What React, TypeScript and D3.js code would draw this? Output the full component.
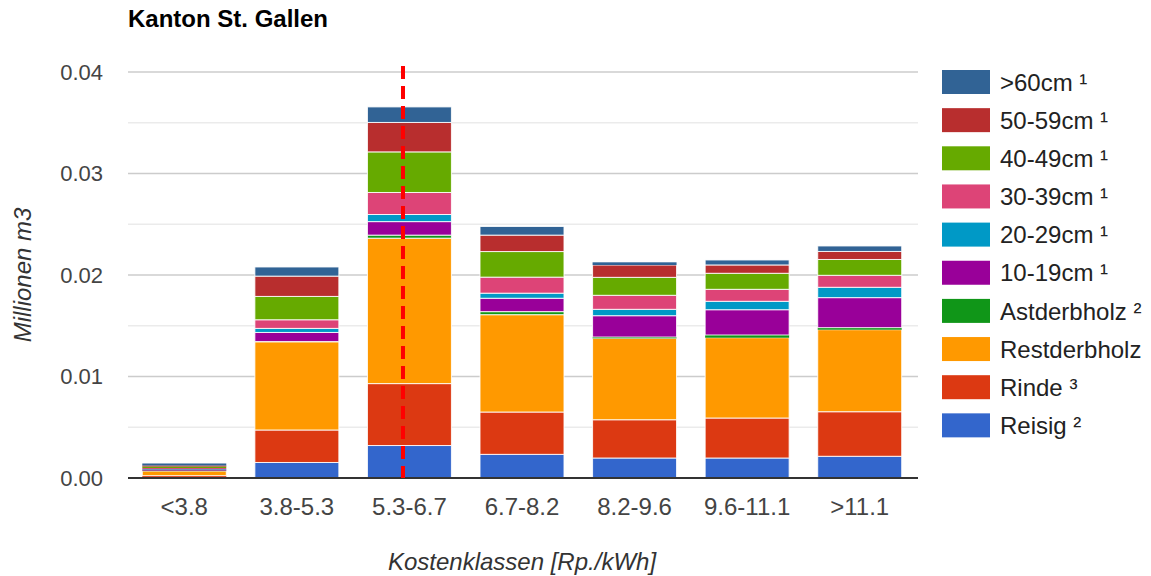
import React from "react";
import * as d3 from "d3";

const categories = ["<3.8", "3.8-5.3", "5.3-6.7", "6.7-8.2", "8.2-9.6", "9.6-11.1", ">11.1"];

// series in stacking order (bottom to top)
const seriesNames = ["Reisig ²", "Rinde ³", "Restderbholz", "Astderbholz ²", "10-19cm ¹", "20-29cm ¹", "30-39cm ¹", "40-49cm ¹", "50-59cm ¹", ">60cm ¹"];
const seriesColors = ["#3366cc", "#dc3912", "#ff9900", "#109618", "#990099", "#0099c6", "#dd4477", "#66aa00", "#b82e2e", "#316395"];

const reisig = [0.00003, 0.00153, 0.0032, 0.00233, 0.00197, 0.00197, 0.00214];
const rinde = [0.0002, 0.0032, 0.0061, 0.00417, 0.00377, 0.00394, 0.00439];
const restderbholz = [0.00045, 0.00867, 0.01433, 0.00959, 0.00802, 0.00791, 0.00808];
const astderbholz = [0.00005, 0.00005, 0.0003, 0.0003, 0.00013, 0.00027, 0.0002];
const cm10_19 = [0.0001, 0.00089, 0.00133, 0.00132, 0.0021, 0.00249, 0.00296];
const cm20_29 = [0.00005, 0.0004, 0.0007, 0.0005, 0.00063, 0.00083, 0.00102];
const cm30_39 = [0.0001, 0.00085, 0.00217, 0.00158, 0.00138, 0.00118, 0.00118];
const cm40_49 = [0.00015, 0.0023, 0.004, 0.00252, 0.00177, 0.00158, 0.00156];
const cm50_59 = [0.0001, 0.002, 0.0029, 0.00162, 0.00121, 0.00082, 0.00079];
const cm60plus = [0.0002, 0.0009, 0.00153, 0.00085, 0.00027, 0.00049, 0.00054];

const seriesValues = [reisig, rinde, restderbholz, astderbholz, cm10_19, cm20_29, cm30_39, cm40_49, cm50_59, cm60plus];

const yTicks = [0, 0.01, 0.02, 0.03, 0.04];
const yMinorTicks = [0.005, 0.015, 0.025, 0.035];

// reference marker (Rp./kWh) inside category "5.3-6.7"
const markerCategory = "5.3-6.7";
const markerRange = [5.3, 6.7];
const markerValue = 5.92;

const W = 1151;
const H = 576;
const FONT = "Arial, 'Liberation Sans', sans-serif";

export default function App() {
  const x = d3.scaleBand<string>().domain(categories).range([128, 916]).paddingInner(0.254).paddingOuter(0.127);
  const y = d3.scaleLinear().domain([0, 0.04]).range([478, 72]);

  const rows = categories.map((c, i) => {
    const r: any = { cat: c };
    seriesNames.forEach((s, j) => (r[s] = seriesValues[j][i]));
    return r;
  });
  const stacked = d3.stack<any>().keys(seriesNames)(rows);

  const mStep = x.step();
  const mStart = (x(markerCategory) as number) - (x.step() * x.paddingInner()) / 2;
  const mx = d3.scaleLinear().domain(markerRange).range([mStart, mStart + mStep])(markerValue);

  const legendItems = seriesNames.map((n, i) => ({ n, c: seriesColors[i] })).reverse();

  return (
    <svg width={W} height={H} style={{ position: "absolute", left: 0, top: 0, background: "#fff" }} fontFamily={FONT}>
      <text x={128} y={27} fontSize={24} fontWeight="bold" fill="#000">Kanton St. Gallen</text>

      {yMinorTicks.map((t) => (
        <line key={"m" + t} x1={128} x2={918} y1={y(t)} y2={y(t)} stroke="#ebebeb" strokeWidth={1.5} />
      ))}
      {yTicks.map((t) => (
        <g key={"t" + t}>
          {t > 0 && <line x1={128} x2={918} y1={y(t)} y2={y(t)} stroke="#cccccc" strokeWidth={1.5} />}
          <text x={103} y={y(t)} dy="0.36em" textAnchor="end" fontSize={22} fill="#444">{d3.format(".2f")(t)}</text>
        </g>
      ))}

      {stacked.map((layer, j) => (
        <g key={layer.key} fill={seriesColors[j]}>
          {layer.map((d, i) => {
            const h = Math.max(0, y(d[0]) - y(d[1]));
            return (
              <rect key={i} x={x(categories[i])} width={x.bandwidth()} y={y(d[1])} height={h}
                stroke="#ffffff" strokeWidth={h >= 3 ? 1 : 0} strokeOpacity={0.85} />
            );
          })}
        </g>
      ))}

      <line x1={128} x2={918} y1={y(0)} y2={y(0)} stroke="#333" strokeWidth={2} />

      <line x1={mx} x2={mx} y1={66} y2={y(0)} stroke="#ff0000" strokeWidth={4} strokeDasharray="13 7" />

      {categories.map((c) => (
        <text key={c} x={(x(c) as number) + x.bandwidth() / 2} y={515} textAnchor="middle" fontSize={24} fill="#444">{c}</text>
      ))}

      <text x={522} y={570} textAnchor="middle" fontSize={24} fontStyle="italic" fill="#333">Kostenklassen [Rp./kWh]</text>
      <text transform={`translate(31,275) rotate(-90)`} textAnchor="middle" fontSize={24} fontStyle="italic" fill="#333">Millionen m3</text>

      {legendItems.map((it, i) => {
        const top = 70 + i * 38.15;
        return (
          <g key={it.n}>
            <rect x={942} y={top} width={48} height={24} fill={it.c} />
            <text x={1000} y={top + 12} dy="0.36em" fontSize={24} fill="#222">{it.n}</text>
          </g>
        );
      })}
    </svg>
  );
}
